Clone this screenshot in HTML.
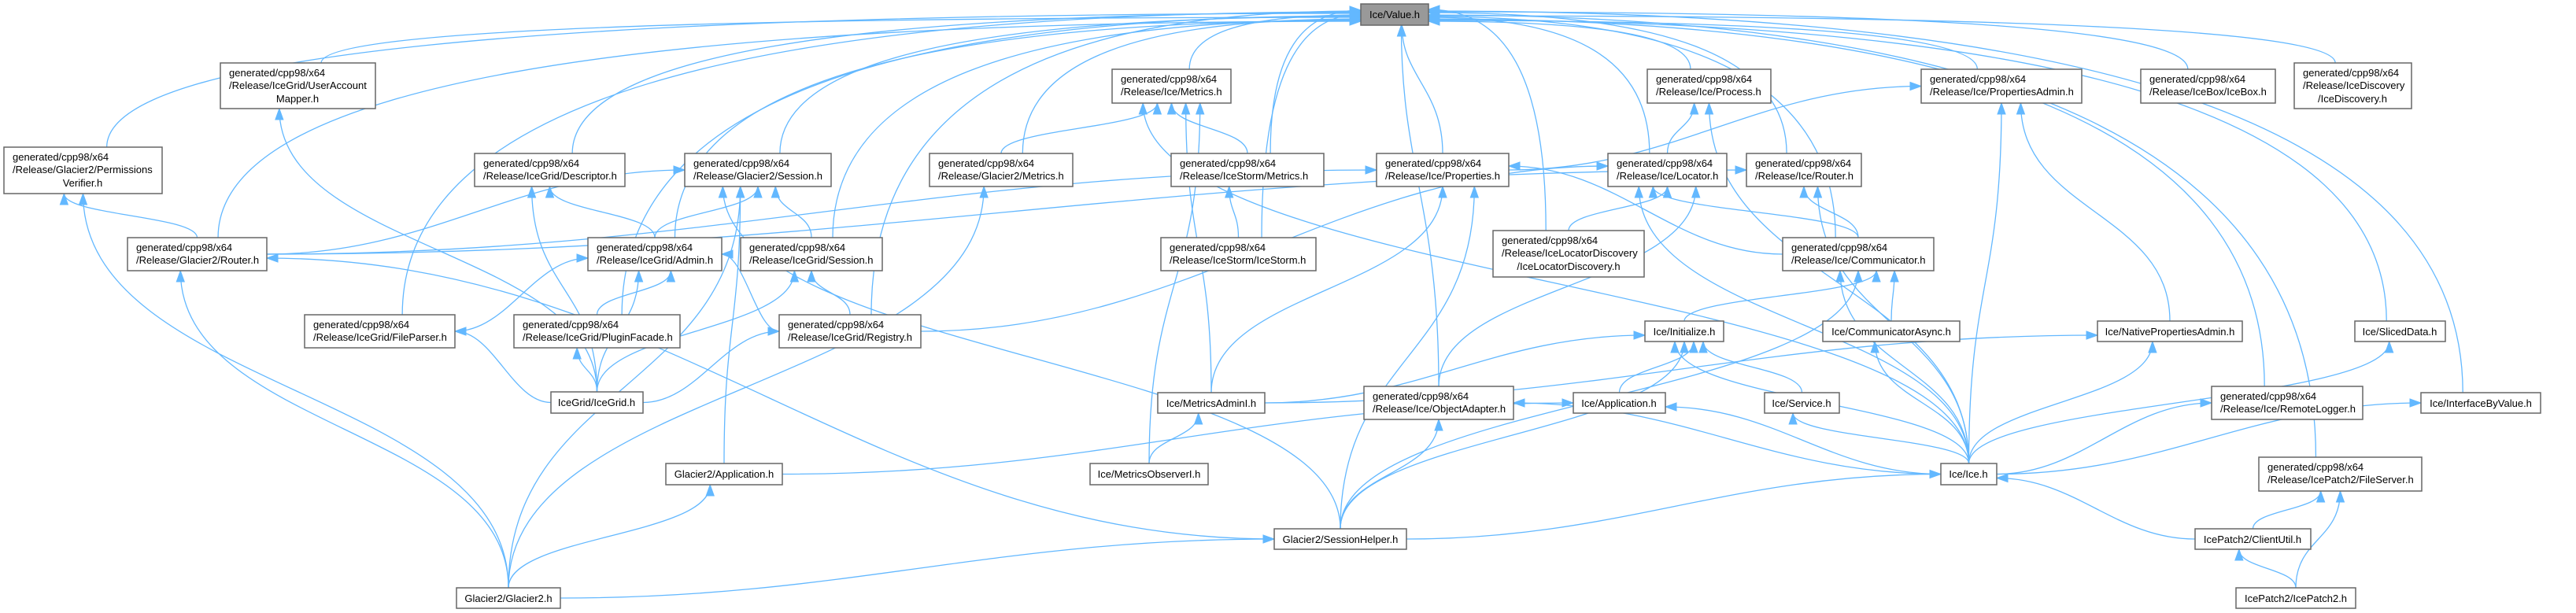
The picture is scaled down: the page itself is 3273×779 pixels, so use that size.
<!DOCTYPE html>
<html><head><meta charset="utf-8">
<style>
html,body{margin:0;padding:0;background:#fff;}
svg{display:block;}
text{font-family:"Liberation Sans",Arial,sans-serif;font-size:13px;fill:#000;}
</style></head>
<body>
<svg id="g" xmlns="http://www.w3.org/2000/svg" width="3273" height="779" viewBox="0 0 3273 779">
<g id="edges" fill="none" stroke="#63b8ff" stroke-width="1.3"></g>
<g id="heads" fill="#63b8ff" stroke="#63b8ff"></g>
<g id="nodes" stroke="#666" stroke-width="1.5">
<rect x="1729" y="5" width="86" height="27" fill="#999"/>
<rect x="5" y="187" width="201" height="59" fill="#fff"/>
<rect x="280" y="80" width="197" height="58" fill="#fff"/>
<rect x="603" y="195" width="191" height="42" fill="#fff"/>
<rect x="870" y="195" width="186" height="42" fill="#fff"/>
<rect x="1181" y="195" width="182" height="42" fill="#fff"/>
<rect x="1413" y="88" width="151" height="43" fill="#fff"/>
<rect x="1488" y="195" width="194" height="42" fill="#fff"/>
<rect x="1749" y="195" width="168" height="42" fill="#fff"/>
<rect x="1897" y="293" width="192" height="59" fill="#fff"/>
<rect x="2093" y="88" width="157" height="43" fill="#fff"/>
<rect x="2043" y="195" width="151" height="42" fill="#fff"/>
<rect x="2219" y="195" width="146" height="42" fill="#fff"/>
<rect x="2441" y="88" width="204" height="43" fill="#fff"/>
<rect x="2720" y="88" width="171" height="43" fill="#fff"/>
<rect x="2915" y="80" width="149" height="58" fill="#fff"/>
<rect x="162" y="302" width="177" height="42" fill="#fff"/>
<rect x="747" y="302" width="170" height="42" fill="#fff"/>
<rect x="941" y="302" width="180" height="42" fill="#fff"/>
<rect x="1475" y="302" width="197" height="42" fill="#fff"/>
<rect x="2265" y="302" width="192" height="42" fill="#fff"/>
<rect x="387" y="400" width="191" height="42" fill="#fff"/>
<rect x="653" y="400" width="211" height="42" fill="#fff"/>
<rect x="990" y="400" width="180" height="42" fill="#fff"/>
<rect x="2090" y="408" width="100" height="26" fill="#fff"/>
<rect x="2316" y="408" width="174" height="26" fill="#fff"/>
<rect x="2665" y="408" width="184" height="26" fill="#fff"/>
<rect x="2992" y="408" width="115" height="26" fill="#fff"/>
<rect x="700" y="498" width="117" height="27" fill="#fff"/>
<rect x="1471" y="499" width="136" height="26" fill="#fff"/>
<rect x="1733" y="491" width="190" height="42" fill="#fff"/>
<rect x="1999" y="499" width="117" height="26" fill="#fff"/>
<rect x="2242" y="499" width="95" height="26" fill="#fff"/>
<rect x="2810" y="491" width="192" height="42" fill="#fff"/>
<rect x="3076" y="499" width="152" height="26" fill="#fff"/>
<rect x="846" y="589" width="148" height="27" fill="#fff"/>
<rect x="1385" y="589" width="150" height="27" fill="#fff"/>
<rect x="2466" y="589" width="71" height="27" fill="#fff"/>
<rect x="2870" y="581" width="207" height="43" fill="#fff"/>
<rect x="1619" y="672" width="168" height="26" fill="#fff"/>
<rect x="2789" y="672" width="147" height="26" fill="#fff"/>
<rect x="580" y="747" width="132" height="26" fill="#fff"/>
<rect x="2841" y="747" width="152" height="26" fill="#fff"/>
</g>
<g id="labels">
<text x="1772" y="23" text-anchor="middle">Ice/Value.h</text>
<text x="16" y="204">generated/cpp98/x64</text><text x="16" y="220">/Release/Glacier2/Permissions</text><text x="105" y="237" text-anchor="middle">Verifier.h</text>
<text x="291" y="97">generated/cpp98/x64</text><text x="291" y="113">/Release/IceGrid/UserAccount</text><text x="378" y="130" text-anchor="middle">Mapper.h</text>
<text x="614" y="212">generated/cpp98/x64</text><text x="614" y="228">/Release/IceGrid/Descriptor.h</text>
<text x="881" y="212">generated/cpp98/x64</text><text x="881" y="228">/Release/Glacier2/Session.h</text>
<text x="1192" y="212">generated/cpp98/x64</text><text x="1192" y="228">/Release/Glacier2/Metrics.h</text>
<text x="1424" y="105">generated/cpp98/x64</text><text x="1424" y="121">/Release/Ice/Metrics.h</text>
<text x="1499" y="212">generated/cpp98/x64</text><text x="1499" y="228">/Release/IceStorm/Metrics.h</text>
<text x="1760" y="212">generated/cpp98/x64</text><text x="1760" y="228">/Release/Ice/Properties.h</text>
<text x="1908" y="310">generated/cpp98/x64</text><text x="1908" y="326">/Release/IceLocatorDiscovery</text><text x="1993" y="343" text-anchor="middle">/IceLocatorDiscovery.h</text>
<text x="2104" y="105">generated/cpp98/x64</text><text x="2104" y="121">/Release/Ice/Process.h</text>
<text x="2054" y="212">generated/cpp98/x64</text><text x="2054" y="228">/Release/Ice/Locator.h</text>
<text x="2230" y="212">generated/cpp98/x64</text><text x="2230" y="228">/Release/Ice/Router.h</text>
<text x="2452" y="105">generated/cpp98/x64</text><text x="2452" y="121">/Release/Ice/PropertiesAdmin.h</text>
<text x="2731" y="105">generated/cpp98/x64</text><text x="2731" y="121">/Release/IceBox/IceBox.h</text>
<text x="2926" y="97">generated/cpp98/x64</text><text x="2926" y="113">/Release/IceDiscovery</text><text x="2989" y="130" text-anchor="middle">/IceDiscovery.h</text>
<text x="173" y="319">generated/cpp98/x64</text><text x="173" y="335">/Release/Glacier2/Router.h</text>
<text x="758" y="319">generated/cpp98/x64</text><text x="758" y="335">/Release/IceGrid/Admin.h</text>
<text x="952" y="319">generated/cpp98/x64</text><text x="952" y="335">/Release/IceGrid/Session.h</text>
<text x="1486" y="319">generated/cpp98/x64</text><text x="1486" y="335">/Release/IceStorm/IceStorm.h</text>
<text x="2276" y="319">generated/cpp98/x64</text><text x="2276" y="335">/Release/Ice/Communicator.h</text>
<text x="398" y="417">generated/cpp98/x64</text><text x="398" y="433">/Release/IceGrid/FileParser.h</text>
<text x="664" y="417">generated/cpp98/x64</text><text x="664" y="433">/Release/IceGrid/PluginFacade.h</text>
<text x="1001" y="417">generated/cpp98/x64</text><text x="1001" y="433">/Release/IceGrid/Registry.h</text>
<text x="2140" y="426" text-anchor="middle">Ice/Initialize.h</text>
<text x="2403" y="426" text-anchor="middle">Ice/CommunicatorAsync.h</text>
<text x="2757" y="426" text-anchor="middle">Ice/NativePropertiesAdmin.h</text>
<text x="3049" y="426" text-anchor="middle">Ice/SlicedData.h</text>
<text x="758" y="516" text-anchor="middle">IceGrid/IceGrid.h</text>
<text x="1539" y="517" text-anchor="middle">Ice/MetricsAdminI.h</text>
<text x="1744" y="508">generated/cpp98/x64</text><text x="1744" y="524">/Release/Ice/ObjectAdapter.h</text>
<text x="2057" y="517" text-anchor="middle">Ice/Application.h</text>
<text x="2289" y="517" text-anchor="middle">Ice/Service.h</text>
<text x="2821" y="508">generated/cpp98/x64</text><text x="2821" y="524">/Release/Ice/RemoteLogger.h</text>
<text x="3152" y="517" text-anchor="middle">Ice/InterfaceByValue.h</text>
<text x="920" y="607" text-anchor="middle">Glacier2/Application.h</text>
<text x="1460" y="607" text-anchor="middle">Ice/MetricsObserverI.h</text>
<text x="2501" y="607" text-anchor="middle">Ice/Ice.h</text>
<text x="2881" y="598">generated/cpp98/x64</text><text x="2881" y="614">/Release/IcePatch2/FileServer.h</text>
<text x="1703" y="690" text-anchor="middle">Glacier2/SessionHelper.h</text>
<text x="2862" y="690" text-anchor="middle">IcePatch2/ClientUtil.h</text>
<text x="646" y="765" text-anchor="middle">Glacier2/Glacier2.h</text>
<text x="2917" y="765" text-anchor="middle">IcePatch2/IcePatch2.h</text>
</g>
</svg>
<script>
(function(){
var N={V:[1729,5,1815,32],PV:[5,187,206,246],UAM:[280,80,477,138],DESC:[603,195,794,237],G2S:[870,195,1056,237],G2M:[1181,195,1363,237],IM:[1413,88,1564,131],ISM:[1488,195,1682,237],PROP:[1749,195,1917,237],LD:[1897,293,2089,352],PROC:[2093,88,2250,131],LOC:[2043,195,2194,237],IR:[2219,195,2365,237],PA:[2441,88,2645,131],IB:[2720,88,2891,131],ID:[2915,80,3064,138],G2R:[162,302,339,344],GA:[747,302,917,344],IGS:[941,302,1121,344],ISI:[1475,302,1672,344],COMM:[2265,302,2457,344],FP:[387,400,578,442],PF:[653,400,864,442],REG:[990,400,1170,442],INIT:[2090,408,2190,434],CA:[2316,408,2490,434],NPA:[2665,408,2849,434],SD:[2992,408,3107,434],IG:[700,498,817,525],MA:[1471,499,1607,525],OA:[1733,491,1923,533],IAPP:[1999,499,2116,525],SVC:[2242,499,2337,525],RL:[2810,491,3002,533],IBV:[3076,499,3228,525],G2A:[846,589,994,616],MO:[1385,589,1535,616],ICE:[2466,589,2537,616],FS:[2870,581,3077,624],SH:[1619,672,1787,698],CU:[2789,672,2936,698],G2G:[580,747,712,773],IP2:[2841,747,2993,773]};
var E=[
["PV","V"],["UAM","V"],["G2R","V"],["DESC","V"],["G2S","V"],["GA","V"],["FP","V"],["PF","V"],["IGS","V"],["REG","V"],["IM","V"],["G2M","V"],["ISM","V"],["ISI","V"],["PROP","V"],["LD","V"],["OA","V"],["LOC","V"],["PROC","V"],["IR","V"],["COMM","V"],["PA","V"],["IB","V"],["ID","V"],["SD","V"],["IBV","V"],["FS","V"],["RL","V"],
["G2R","PV"],["G2G","PV"],["G2G","G2R"],["G2G","G2S"],["G2G","G2M"],["G2G","G2A"],["G2G","SH"],
["IG","UAM"],["IG","FP"],["IG","PF"],["IG","DESC"],["IG","GA"],["IG","IGS"],["IG","REG"],
["GA","DESC"],["GA","G2S"],["FP","GA"],["PF","GA"],["REG","GA"],["REG","IGS"],["IGS","G2S"],["G2R","G2S"],["G2R","PROP"],["G2R","IR"],
["G2M","IM"],["ISM","IM"],["MA","IM"],["MO","IM"],["ICE","IM"],["ISI","ISM"],["MA","PROP"],["MO","MA"],
["SH","G2R"],["SH","G2S"],["G2A","G2S"],["G2A","IAPP"],
["PROP","PA"],["COMM","PROP"],["COMM","LOC"],["COMM","IR"],["LD","LOC"],["LOC","PROC"],["REG","LOC"],["OA","LOC"],
["ICE","LOC"],["ICE","IR"],["ICE","COMM"],["ICE","PROC"],["ICE","PA"],["ICE","NPA"],["ICE","RL"],["ICE","IBV"],["ICE","SD"],["ICE","INIT"],["ICE","CA"],["ICE","SVC"],["ICE","IAPP"],["ICE","OA"],
["SH","PROP"],["SH","OA"],["SH","INIT"],["SH","ICE"],["SH","COMM"],
["INIT","COMM"],["CA","COMM"],["IAPP","INIT"],["SVC","INIT"],["MA","INIT"],["MA","NPA"],["NPA","PA"],
["CU","ICE"],["CU","FS"],["IP2","CU"],["IP2","FS"]];
var cnt={};
var eg=document.getElementById('edges'),hg=document.getElementById('heads'),ns='http://www.w3.org/2000/svg';
E.forEach(function(e){
 var s=N[e[0]],t=N[e[1]];
 var k=e[1];cnt[k]=(cnt[k]||0)+1;var i=cnt[k];
 var sx=(s[0]+s[2])/2,sy=s[1],tx,ty,c1x,c1y,c2x,c2y;
 var tcx=(t[0]+t[2])/2,tw=t[2]-t[0];
 var dx=tcx-sx,dy=sy-t[3];
 if(k==="V"){
   if(sx<1650){tx=t[0];ty=12+((i*5)%16);sy=s[1];sx=sx+(s[2]-s[0])*0.15;
     c1x=sx;c1y=sy-(sy-ty)*0.7;c2x=sx+(tx-sx)*0.35;c2y=ty;}
   else if(sx>1950){tx=t[2];ty=12+((i*5)%16);sx=sx-(s[2]-s[0])*0.15;
     c1x=sx;c1y=sy-(sy-ty)*0.7;c2x=sx+(tx-sx)*0.35;c2y=ty;}
   else{tx=tcx+(sx-tcx)*0.15;ty=t[3];c1x=sx;c1y=sy-(sy-ty)*0.5;c2x=tx;c2y=ty+(sy-ty)*0.4;}
 } else if(sy<=t[3]+10 || Math.abs(dx)>4*Math.abs(dy)){
   var sm=(s[1]+s[3])/2,tm=(t[1]+t[3])/2;
   if(dx>0){sx=s[2];tx=t[0];}else{sx=s[0];tx=t[2];}
   sy=sm;ty=tm+((i%3)-1)*5;
   c1x=sx+(tx-sx)*0.4;c1y=sy;c2x=sx+(tx-sx)*0.6;c2y=ty;
 } else {
   var off=((i%5)-2)*0.12*tw;
   tx=tcx+off;ty=t[3];
   c1x=sx;c1y=sy-dy*0.5;c2x=tx;c2y=ty+dy*0.5;
 }
 var p=document.createElementNS(ns,'path');
 p.setAttribute('d','M'+sx+','+sy+' C'+c1x+','+c1y+' '+c2x+','+c2y+' '+tx+','+ty);
 eg.appendChild(p);
 var ax=tx-c2x,ay=ty-c2y,L=Math.sqrt(ax*ax+ay*ay)||1;ax/=L;ay/=L;
 var bx=tx-ax*14,by=ty-ay*14,px=-ay*5,py=ax*5;
 var h=document.createElementNS(ns,'polygon');
 h.setAttribute('points',tx+','+ty+' '+(bx+px)+','+(by+py)+' '+(bx-px)+','+(by-py));
 hg.appendChild(h);
});
})();
</script>
</body></html>
